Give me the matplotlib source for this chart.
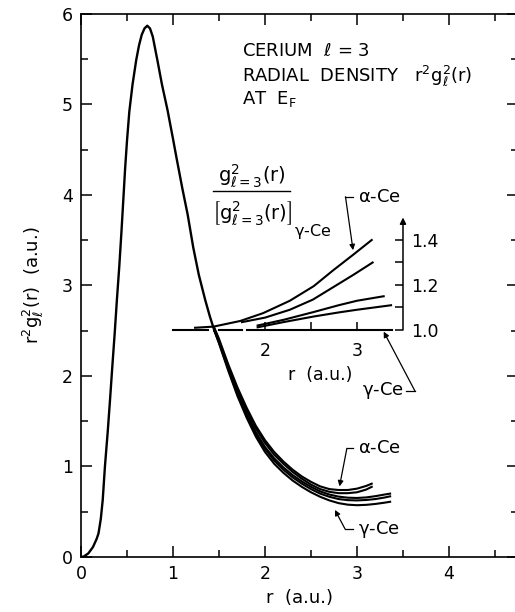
import matplotlib.pyplot as plt
from matplotlib.ticker import MultipleLocator, FixedLocator

plt.rcParams['font.family'] = 'DejaVu Sans'
plt.rcParams['mathtext.fontset'] = 'dejavusans'
plt.rcParams['mathtext.default'] = 'regular'

# common part of the radial density (all volumes coincide here)
r_main = [0, 0.03, 0.08, 0.13, 0.17, 0.19, 0.215, 0.236, 0.26, 0.29, 0.315, 0.34,
          0.366, 0.39, 0.416, 0.44, 0.46, 0.48, 0.50, 0.525, 0.56, 0.60, 0.63,
          0.66, 0.69, 0.72, 0.75, 0.78, 0.83, 0.88, 0.94, 1.0, 1.04, 1.1, 1.16,
          1.22, 1.28, 1.35, 1.40, 1.45]
dens_main = [0, 0.005, 0.04, 0.11, 0.2, 0.26, 0.42, 0.63, 1.0, 1.38, 1.73, 2.1,
             2.47, 2.84, 3.21, 3.6, 3.95, 4.3, 4.6, 4.92, 5.22, 5.49, 5.65,
             5.77, 5.84, 5.87, 5.84, 5.75, 5.49, 5.22, 4.94, 4.62, 4.40, 4.08, 3.78,
             3.42, 3.12, 2.84, 2.66, 2.50]

# tails: alpha-Ce pair (to 3.16), intermediate pair and gamma-Ce (to 3.36)
r_long = [1.45, 1.5, 1.6, 1.7, 1.8, 1.9, 2.0, 2.1, 2.2, 2.3, 2.4, 2.5, 2.6, 2.7,
          2.8, 2.9, 3.0, 3.1, 3.2, 3.3, 3.36]
dens_gamma = [2.50, 2.36, 2.06, 1.78, 1.54, 1.33, 1.16, 1.03, 0.93, 0.845, 0.775,
              0.715, 0.665, 0.625, 0.595, 0.578, 0.572, 0.576, 0.586, 0.60, 0.61]
dens_mid2 = [2.50, 2.37, 2.08, 1.80, 1.565, 1.36, 1.195, 1.065, 0.965, 0.88, 0.81,
             0.75, 0.70, 0.665, 0.64, 0.628, 0.625, 0.63, 0.64, 0.657, 0.67]
dens_mid1 = [2.51, 2.38, 2.09, 1.815, 1.58, 1.38, 1.215, 1.09, 0.99, 0.905, 0.835,
             0.775, 0.725, 0.69, 0.667, 0.655, 0.652, 0.658, 0.672, 0.69, 0.70]
r_short = [1.45, 1.5, 1.6, 1.7, 1.8, 1.9, 2.0, 2.1, 2.2, 2.3, 2.4, 2.5, 2.6, 2.7,
           2.8, 2.9, 3.0, 3.1, 3.16]
dens_alpha2 = [2.52, 2.39, 2.11, 1.85, 1.62, 1.42, 1.26, 1.13, 1.03, 0.94, 0.865,
               0.80, 0.75, 0.72, 0.705, 0.705, 0.715, 0.745, 0.775]
dens_alpha1 = [2.53, 2.41, 2.13, 1.875, 1.65, 1.45, 1.29, 1.16, 1.055, 0.965, 0.89,
               0.83, 0.78, 0.75, 0.74, 0.74, 0.755, 0.785, 0.81]

# inset: ratio to gamma-Ce
r_c1 = [1.24, 1.44, 1.73, 1.98, 2.27, 2.53, 2.74, 2.96, 3.16]
ratio_c1 = [1.01, 1.015, 1.04, 1.075, 1.13, 1.195, 1.265, 1.335, 1.40]
r_c2 = [1.75, 2.0, 2.27, 2.52, 2.74, 2.96, 3.17]
ratio_c2 = [1.035, 1.055, 1.09, 1.135, 1.19, 1.245, 1.30]
r_c3 = [1.92, 2.2, 2.53, 2.8, 3.0, 3.29]
ratio_c3 = [1.02, 1.045, 1.08, 1.11, 1.13, 1.15]
r_c4 = [1.92, 2.2, 2.53, 2.8, 3.0, 3.37]
ratio_c4 = [1.012, 1.035, 1.06, 1.078, 1.09, 1.11]
base_segments = [(1.0, 1.38), (1.5, 1.75), (1.8, 3.38)]

fig = plt.figure(figsize=(5.15, 6.12), dpi=100)
ax = fig.add_axes([0.1573, 0.0899, 0.8485, 0.8873])
ax.plot(r_main, dens_main, color='k', lw=1.7)
for rr, dd in [(r_long, dens_gamma), (r_long, dens_mid2), (r_long, dens_mid1),
               (r_short, dens_alpha2), (r_short, dens_alpha1)]:
    ax.plot(rr, dd, color='k', lw=1.5)

ax.set_xlim(0, 4.75)
ax.set_ylim(0, 6)
ax.xaxis.set_major_locator(MultipleLocator(1))
ax.xaxis.set_minor_locator(MultipleLocator(0.5))
ax.yaxis.set_major_locator(MultipleLocator(1))
ax.yaxis.set_minor_locator(MultipleLocator(0.5))
ax.tick_params(which='both', direction='in', top=True, right=True, width=1.1,
               labelsize=12.5, pad=6)
ax.tick_params(which='major', length=8)
ax.tick_params(which='minor', length=5)
for s in ax.spines.values():
    s.set_linewidth(1.2)
ax.set_xlabel('r  (a.u.)', fontsize=13, labelpad=4)
ax.set_ylabel(r'$r^2g^2_\ell(r)$  (a.u.)', fontsize=13, labelpad=11)

fs = 13
ax.text(1.75, 5.536, r'CERIUM  $\ell$ = 3', fontsize=fs, va='baseline')
ax.text(1.75, 5.252, r'RADIAL  DENSITY   $r^2g^2_\ell(r)$', fontsize=fs, va='baseline')
ax.text(1.75, 5.006, r'AT  $E_F$', fontsize=fs, va='baseline')

# ratio label drawn as a stacked fraction
ax.text(1.86, 4.21, r'$g^2_{\ell=3}(r)$', fontsize=14, ha='center', va='center')
ax.plot([1.435, 2.27], [4.04, 4.04], color='k', lw=1.0)
ax.text(1.86, 3.80, r'$\left[g^2_{\ell=3}(r)\right]$', fontsize=14, ha='center', va='center')
ax.text(2.31, 3.60, r'$\gamma$-Ce', fontsize=11.5, ha='left', va='center')

# inset
ax_in = ax.inset_axes([1.0, 2.508, 2.5, 1.243], transform=ax.transData)
ax_in.patch.set_alpha(0)
ax_in.set_xlim(1.0, 3.5)
ax_in.set_ylim(1.0, 1.5)
for k in ['top', 'left', 'bottom', 'right']:
    ax_in.spines[k].set_visible(False)
for rr, qq in [(r_c1, ratio_c1), (r_c2, ratio_c2), (r_c3, ratio_c3), (r_c4, ratio_c4)]:
    ax_in.plot(rr, qq, color='k', lw=1.5, clip_on=False)
for a, b in base_segments:
    ax_in.plot([a, b], [1.0, 1.0], color='k', lw=1.5, clip_on=False)
ax_in.annotate('', xy=(3.5, 1.5), xytext=(3.5, 1.0), annotation_clip=False,
               arrowprops=dict(arrowstyle='-|>', color='k', lw=1.1,
                               mutation_scale=9, shrinkA=0, shrinkB=0))
ax_in.yaxis.tick_right()
ax_in.yaxis.set_major_locator(FixedLocator([1.0, 1.2, 1.4]))
ax_in.yaxis.set_minor_locator(FixedLocator([1.1, 1.3]))
ax_in.set_yticklabels(['1.0', '1.2', '1.4'])
ax_in.xaxis.set_major_locator(FixedLocator([2, 3]))
ax_in.xaxis.set_minor_locator(FixedLocator([2.5]))
ax_in.tick_params(which='both', direction='in', width=1.1, labelsize=12.5)
ax_in.tick_params(axis='y', which='both', length=6, pad=6)
ax_in.tick_params(axis='x', which='both', length=6, pad=9)
ax.text(2.6, 2.01, 'r  (a.u.)', fontsize=12.5, ha='center', va='center')

# labels with leader arrows
ap = dict(arrowstyle='-|>', color='k', lw=0.9, mutation_scale=8, shrinkA=0, shrinkB=0)
ax.text(3.01, 3.98, r'$\alpha$-Ce', fontsize=fs, va='center')
ax.plot([2.955, 2.875], [3.98, 3.98], color='k', lw=0.9)
ax.annotate('', xy=(2.957, 3.39), xytext=(2.875, 3.98), arrowprops=ap)

ax.text(3.51, 1.834, r'$\gamma$-Ce', fontsize=fs, va='center', ha='right')
ax.plot([3.53, 3.63], [1.834, 1.834], color='k', lw=0.9)
ax.annotate('', xy=(3.29, 2.49), xytext=(3.63, 1.834), arrowprops=ap)

ax.text(3.01, 1.2, r'$\alpha$-Ce', fontsize=fs, va='center')
ax.plot([2.955, 2.89], [1.2, 1.2], color='k', lw=0.9)
ax.annotate('', xy=(2.81, 0.78), xytext=(2.89, 1.2), arrowprops=ap)

ax.text(3.01, 0.30, r'$\gamma$-Ce', fontsize=fs, va='center')
ax.plot([2.955, 2.87], [0.31, 0.31], color='k', lw=0.9)
ax.annotate('', xy=(2.76, 0.52), xytext=(2.87, 0.31), arrowprops=ap)

fig.savefig('out.png', dpi=100)
